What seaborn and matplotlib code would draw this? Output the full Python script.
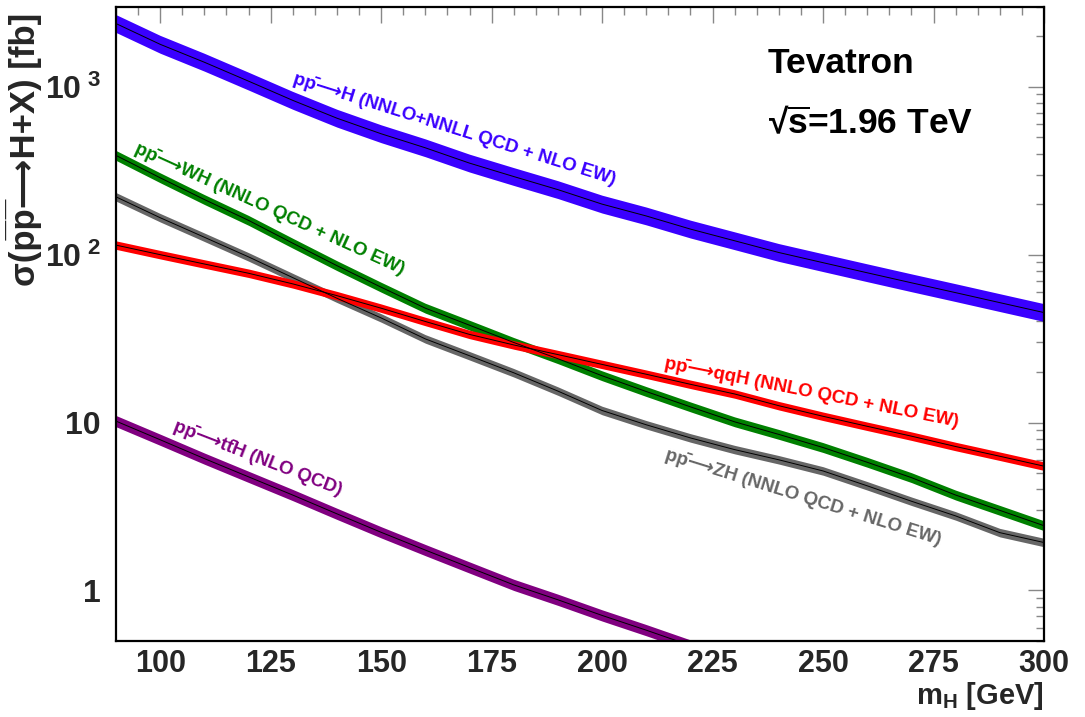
import numpy as np
import pandas as pd
import matplotlib
matplotlib.use("Agg")
import matplotlib.pyplot as plt
import seaborn as sns
from matplotlib.ticker import MultipleLocator, LogLocator, NullFormatter

# ---------------- data ----------------
mass = [90, 100, 110, 120, 130, 140, 150, 160, 170, 180, 190, 200,
        210, 220, 230, 240, 250, 260, 270, 280, 290, 300]
xs_ggh = [2380, 1790, 1400, 1080, 830, 650, 525, 433, 351, 292, 244, 200,
          170, 142, 121, 103, 89.6, 78, 68, 59.4, 51.8, 45.2]
xs_wh = [390, 287, 213, 160, 117, 86, 64, 48, 38, 30, 24, 19,
         15.3, 12.4, 10.1, 8.5, 7.1, 5.8, 4.7, 3.7, 3.0, 2.43]
xs_zh = [221, 166, 127, 97, 73, 55, 42, 31.5, 25, 19.8, 15.4, 11.8,
         9.7, 8.1, 6.9, 6.0, 5.15, 4.2, 3.4, 2.78, 2.21, 1.93]
xs_vbf = [114, 100, 88, 77.5, 67, 57, 48, 40, 33.5, 29, 25.4, 22.2,
          19.4, 16.9, 14.8, 12.6, 10.9, 9.5, 8.3, 7.2, 6.3, 5.5]
mass_tth = [90, 100, 110, 120, 130, 140, 150, 160, 170, 180, 190, 200, 210, 220]
xs_tth = [10.2, 7.9, 6.1, 4.75, 3.7, 2.86, 2.22, 1.74, 1.37, 1.08, 0.88, 0.71, 0.58, 0.47]

# relative band half-widths
unc_ggh, unc_wh, unc_zh, unc_vbf, unc_tth = 0.13, 0.07, 0.06, 0.06, 0.08

PP = "pp\u0304\u27f6"
labels = [PP + "H (NNLO+NNLL QCD + NLO EW)",
          PP + "WH (NNLO QCD + NLO EW)",
          PP + "qqH (NNLO QCD + NLO EW)",
          PP + "ZH (NNLO QCD + NLO EW)",
          PP + "tt\u0304H (NLO QCD)"]
ytick_vals = [1, 10, 100, 1000]
ytick_labels = ["1", "10", r"$10^{\ 2}$", r"$10^{\ 3}$"]
xtick_vals = [100, 125, 150, 175, 200, 225, 250, 275, 300]

# ---------------- style ----------------
sns.set_theme(style="white")
FAM = ["Liberation Sans", "DejaVu Sans"]
plt.rcParams["font.family"] = FAM
plt.rcParams["font.weight"] = "bold"
plt.rcParams["mathtext.fontset"] = "custom"
plt.rcParams["mathtext.rm"] = "Liberation Sans:bold"
plt.rcParams["mathtext.bf"] = "Liberation Sans:bold"
plt.rcParams["mathtext.it"] = "Liberation Sans:bold"
plt.rcParams["mathtext.sf"] = "Liberation Sans:bold"

fig = plt.figure(figsize=(10.85, 7.17), dpi=100)
ax = fig.add_axes([0.1069, 0.106, 0.8553, 0.8847])

series = [
    (mass, xs_ggh, unc_ggh, "#3a00ff"),
    (mass, xs_wh, unc_wh, "#008000"),
    (mass, xs_zh, unc_zh, "#666666"),
    (mass, xs_vbf, unc_vbf, "#ff0000"),
    (mass_tth, xs_tth, unc_tth, "#800080"),
]
for m, xs, u, col in series:
    df = pd.DataFrame({"m": m, "xs": xs})
    ax.fill_between(df["m"], df["xs"] / (1 + u), df["xs"] * (1 + u),
                    color=col, lw=0, zorder=2)
    sns.lineplot(data=df, x="m", y="xs", color="black", lw=0.7, ax=ax, zorder=3)

ax.set_yscale("log")
ax.set_xlim(90, 300)
ax.set_ylim(0.5, 3000)

# ticks ROOT-style
ax.set_xticks(xtick_vals)
ax.xaxis.set_minor_locator(MultipleLocator(5))
ax.set_yticks(ytick_vals, labels=ytick_labels)
ax.yaxis.set_minor_locator(LogLocator(base=10, subs=np.arange(2, 10)))
ax.yaxis.set_minor_formatter(NullFormatter())
ax.tick_params(which="both", direction="in", top=True, right=True,
               color="#888888", width=1.0)
ax.tick_params(which="major", length=11.5)
ax.tick_params(which="minor", length=5.8)
ax.tick_params(axis="x", which="major", pad=6, labelsize=22)
ax.tick_params(axis="y", which="major", pad=11, labelsize=23)
for t in ax.get_xticklabels() + ax.get_yticklabels():
    t.set_fontweight("bold")

for s in ax.spines.values():
    s.set_color("black")
    s.set_linewidth(1.6)
ax.grid(False)

ax.set_xlabel(r"m$_{\mathrm{H}}$ [GeV]", fontsize=21, loc="right",
              fontweight="bold")
ax.xaxis.set_label_coords(1.0, -0.062)
ax.set_ylabel("\u03c3(p\u0305p\u0305\u27f6H+X) [fb]",
              fontsize=25, loc="top", fontweight="bold", family=FAM)
ax.yaxis.set_label_coords(-0.08, 0.99)

# annotations
ann = [
    (166.5, 560, -17.5, "#3a00ff"),
    (124.8, 188, -24.5, "#008000"),
    (247.5, 15.1, -11.3, "#ff0000"),
    (245.5, 3.6, -17.3, "#666666"),
    (122.1, 6.1, -21.2, "#800080"),
]
for (x, y, rot, col), lab in zip(ann, labels):
    ax.text(x, y, lab, color=col, fontsize=13.5, fontweight="bold",
            family=FAM, rotation=rot, rotation_mode="anchor",
            ha="center", va="center", zorder=5)

ax.text(0.7026, 0.895, "Tevatron", transform=ax.transAxes, fontsize=25.5,
        fontweight="bold", color="black", ha="left", va="baseline")
ax.text(0.7026, 0.801, "\u221a$\\overline{\\mathrm{s}}$=1.96 TeV",
        transform=ax.transAxes, fontsize=25.5, fontweight="bold",
        color="black", ha="left", va="baseline")

fig.savefig("out.png", dpi=100, facecolor="white")
